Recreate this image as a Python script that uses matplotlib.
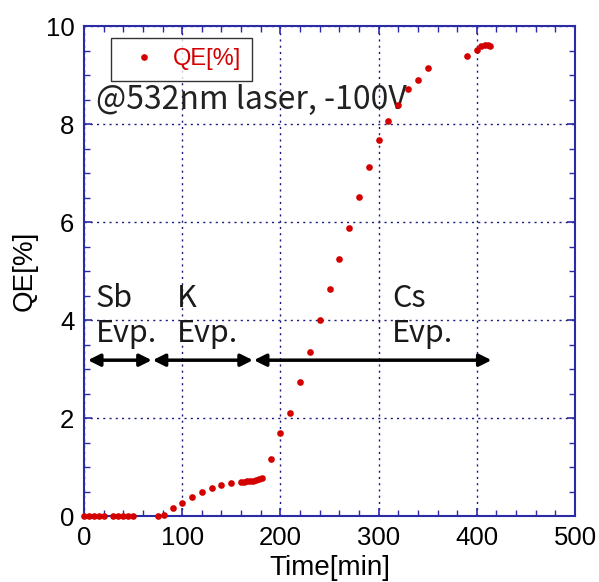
import matplotlib.pyplot as plt
from matplotlib.ticker import MultipleLocator

time_min = [0, 5, 10, 15, 20, 30, 35, 40, 45, 50, 75, 81, 91, 100, 110, 120,
            130, 140, 150, 160, 163, 166, 169, 172, 175, 178, 181, 190, 200,
            210, 220, 230, 240, 250, 260, 270, 280, 290, 300, 310, 320, 330,
            340, 350, 390, 400, 404, 408, 411, 413]
qe = [0, 0, 0, 0, 0, 0, 0, 0, 0, 0, 0, 0.03, 0.16, 0.27, 0.39, 0.50,
      0.58, 0.64, 0.68, 0.70, 0.70, 0.71, 0.71, 0.72, 0.73, 0.75, 0.77, 1.16, 1.70,
      2.11, 2.73, 3.35, 3.99, 4.63, 5.24, 5.88, 6.52, 7.13, 7.67, 8.06, 8.39, 8.72,
      8.90, 9.15, 9.38, 9.52, 9.60, 9.62, 9.61, 9.59]

# evaporation phases: (label, start, end)
phases = [("Sb\nEvp.", 4, 69), ("K\nEvp.", 70, 172), ("Cs\nEvp.", 173, 415)]
phase_label_x = [12, 95, 314]
arrow_y = 3.18

tick_font = "Liberation Sans"
jp_font = ["Noto Sans CJK JP", "DejaVu Sans"]
spine_col = "#2b2ba8"

fig = plt.figure(figsize=(5.99, 5.82), dpi=100)
ax = fig.add_axes([84 / 599, 66 / 582, 491 / 599, 490 / 582])

ax.plot(time_min, qe, "o", color="#d40000", markersize=4.8, markeredgewidth=0,
        label="QE[%]", clip_on=False, zorder=5)

for (name, t0, t1), lx in zip(phases, phase_label_x):
    ax.annotate("", xy=(t0, arrow_y), xytext=(t1, arrow_y),
                arrowprops=dict(arrowstyle="<|-|>", color="black", lw=2.5,
                                mutation_scale=18, shrinkA=0, shrinkB=0))
    ax.text(lx, arrow_y + 0.22, name, family=jp_font, fontsize=22,
            ha="left", va="bottom", linespacing=1.2, color="#1a1a1a")

ax.text(12, 8.5, "@532nm laser, -100V", family=jp_font, fontsize=23,
        ha="left", va="center", color="#222222")

ax.set_xlim(0, 500)
ax.set_ylim(0, 10)
ax.xaxis.set_major_locator(MultipleLocator(100))
ax.xaxis.set_minor_locator(MultipleLocator(20))
ax.yaxis.set_major_locator(MultipleLocator(2))
ax.yaxis.set_minor_locator(MultipleLocator(0.5))
ax.tick_params(which="both", direction="in", top=True, right=True,
               color=spine_col, labelsize=18.5, pad=7)
ax.tick_params(which="major", length=6, width=1.2)
ax.tick_params(which="minor", length=4, width=1)
for lab in ax.get_xticklabels() + ax.get_yticklabels():
    lab.set_family(tick_font)
for sp in ax.spines.values():
    sp.set_color(spine_col)
    sp.set_linewidth(1.5)
ax.grid(True, which="major", color="#1a1a80", linestyle=(0, (1.5, 3)), lw=1)

ax.set_xlabel("Time[min]", family=tick_font, fontsize=20, labelpad=4)
ax.set_ylabel("QE[%]", family=tick_font, fontsize=20, labelpad=6)

leg = ax.legend(loc="upper left", bbox_to_anchor=(0.03, 1.0), frameon=True,
                fancybox=False, edgecolor="black", handletextpad=0.3,
                borderpad=0.45, handlelength=1.9, markerscale=1.0,
                prop={"family": tick_font, "size": 17})
leg.get_frame().set_linewidth(1.0)
for t in leg.get_texts():
    t.set_color("#d40000")

fig.savefig("out.png", dpi=100)
